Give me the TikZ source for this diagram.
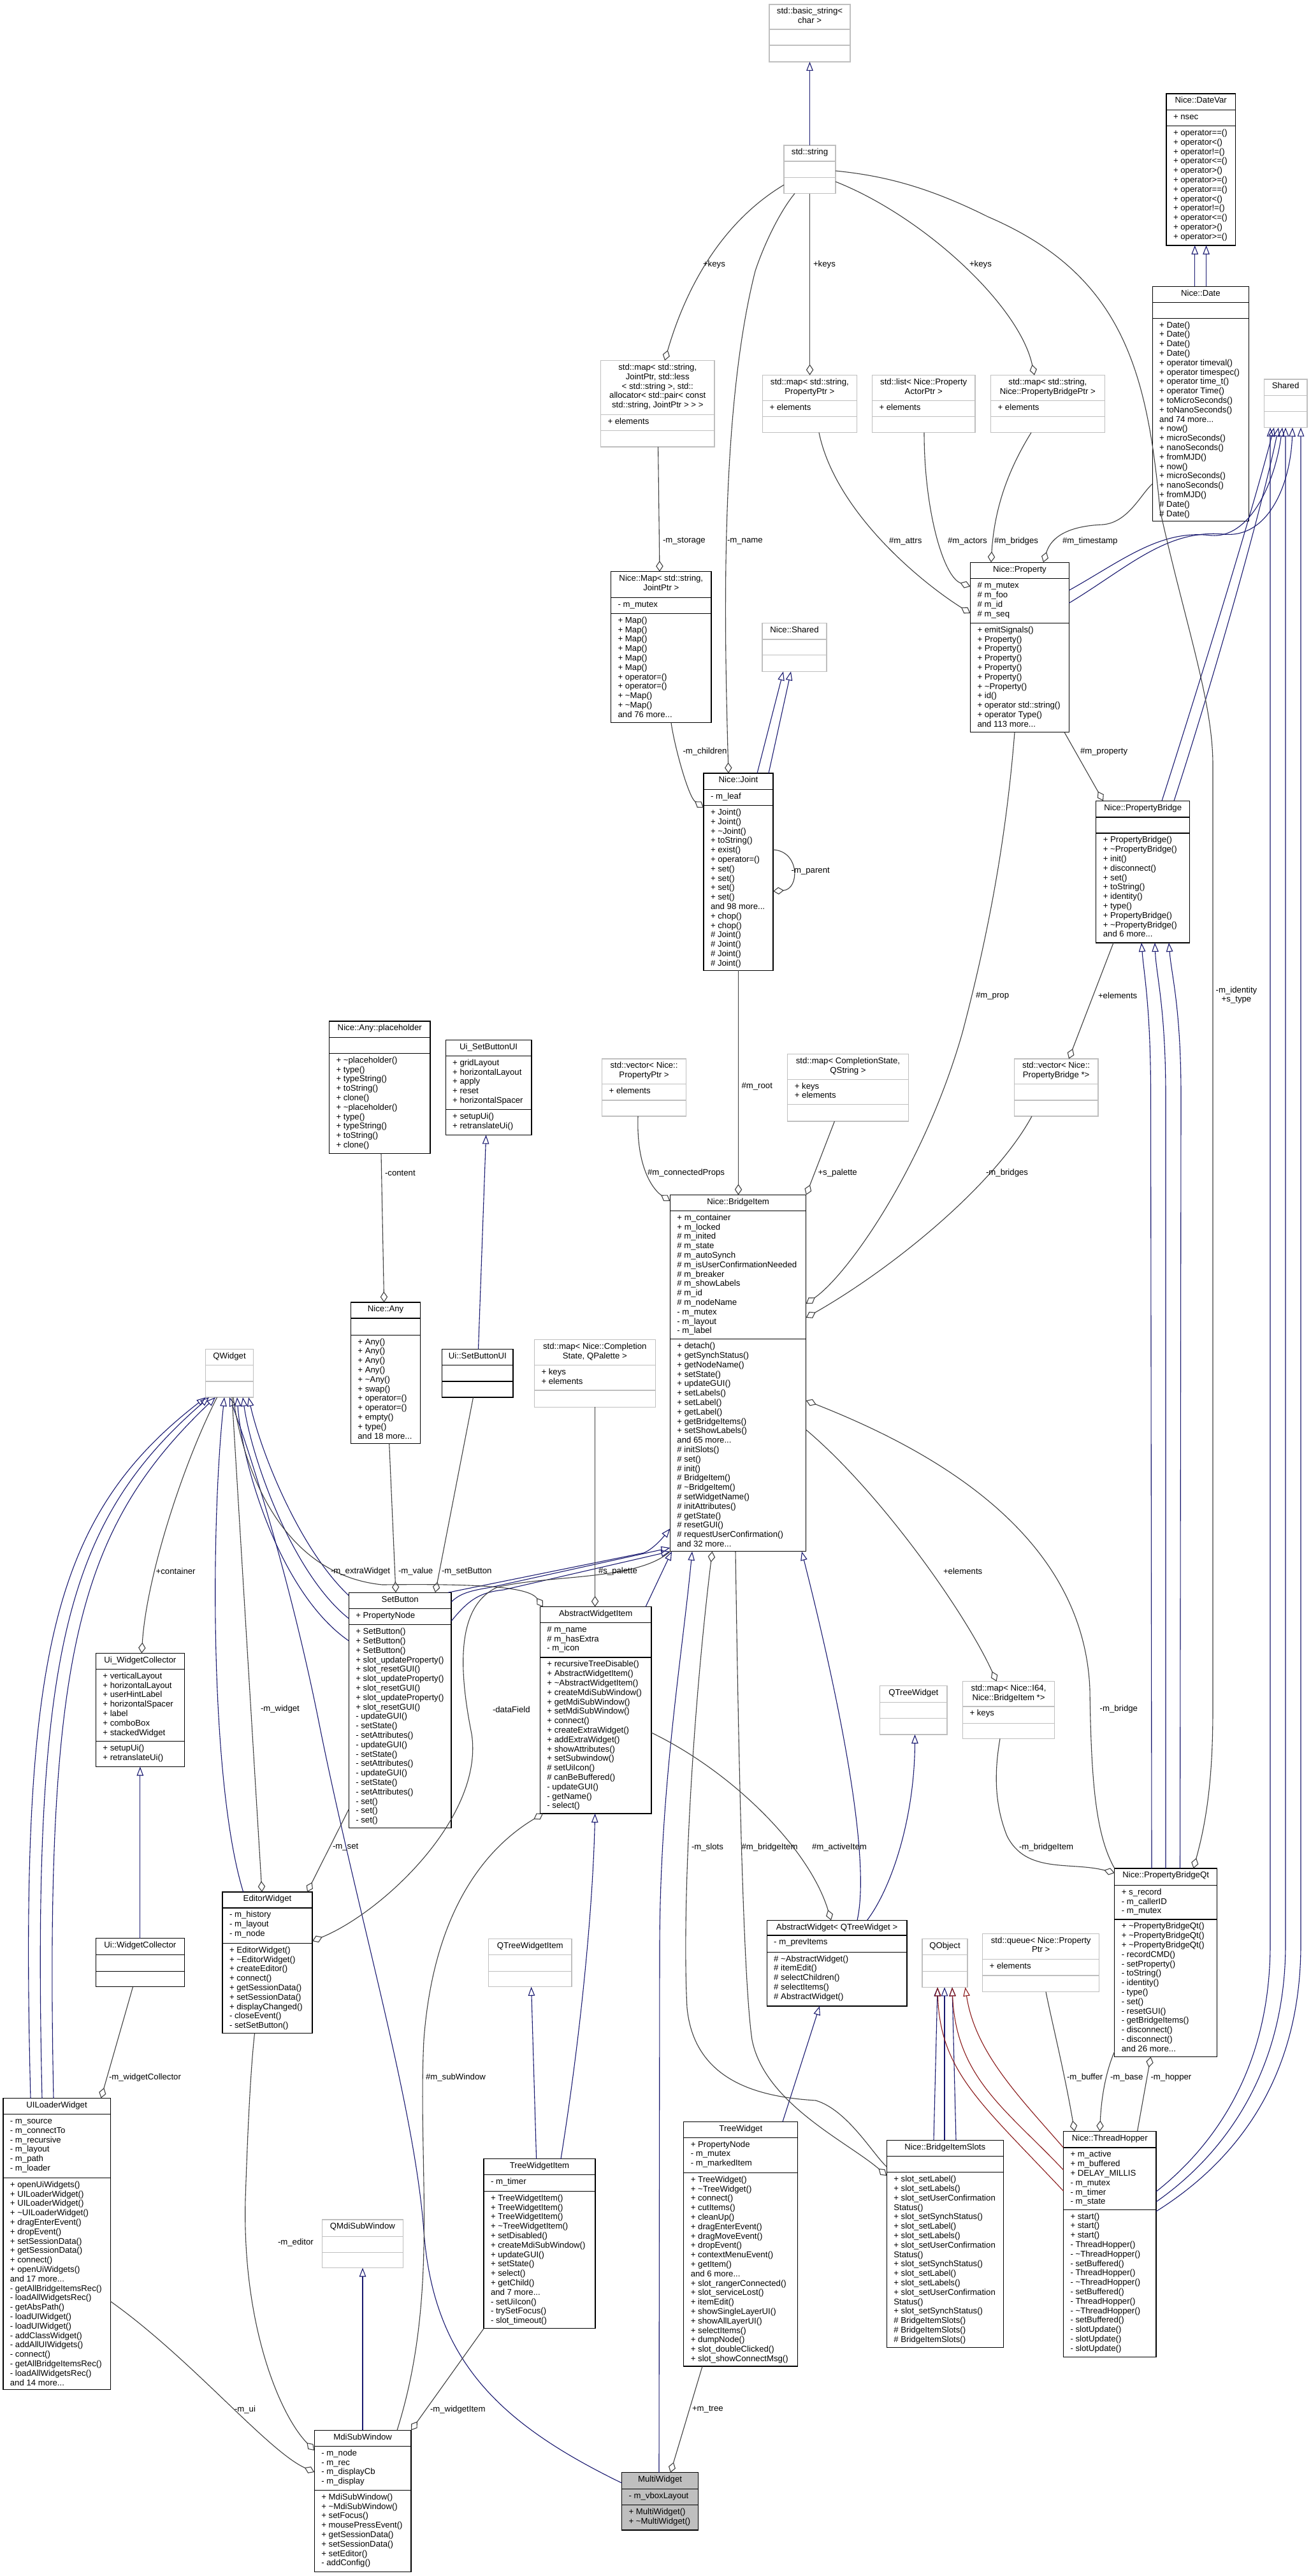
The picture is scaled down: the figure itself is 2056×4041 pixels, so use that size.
\documentclass[tikz,border=0pt]{standalone}
\usepackage{fontspec}
\setmainfont{Liberation Sans}
\usetikzlibrary{arrows.meta}
\definecolor{navy}{HTML}{191970}
\definecolor{dred}{HTML}{8B1A1A}
\definecolor{egrey}{HTML}{404040}
\definecolor{bgrey}{HTML}{BFBFBF}
\tikzset{
  blk/.style={draw=black, line width=1.3pt, fill=white, inner sep=0pt, outer sep=0pt},
  gry/.style={draw=bgrey, line width=1.3pt, fill=white, inner sep=0pt, outer sep=0pt},
  mw/.style={draw=black, line width=1.3pt, fill=bgrey, inner sep=0pt, outer sep=0pt},
  blk sep/.style={draw=black, line width=1.3pt},
  gry sep/.style={draw=bgrey, line width=1.3pt},
  mw sep/.style={draw=black, line width=1.3pt},
  txt/.style={font=\fontsize{13.2}{14.8}\selectfont, inner sep=0pt, outer sep=0pt},
  ttxt/.style={txt, align=center},
  mtxt/.style={txt, align=left},
  lbl/.style={txt},
  inh/.style={draw=navy, line width=1.1pt, -{Triangle[open, length=14pt, width=10.5pt]}},
  inhp/.style={draw=dred, line width=1.1pt, -{Triangle[open, length=14pt, width=10.5pt]}},
  agg/.style={draw=egrey, line width=1.1pt, {Diamond[open, length=17pt, width=11.5pt]}-},
}
% name, style, x1, y1, x2, y2, divider1, divider2
\newcommand\cls[8]{%
  \node[#2, anchor=north west, minimum width={(#5-#3)*1pt}, minimum height={(#6-#4)*1pt}] (#1) at (#3,#4) {};
  \draw[#2 sep] (#1.west |- 0,#7) -- (#1.east |- 0,#7);
  \draw[#2 sep] (#1.west |- 0,#8) -- (#1.east |- 0,#8);
}
\newcommand\ttl[2]{\node[ttxt, anchor=north] (#1t) at ([yshift=-4.5pt]#1.north) {\strut #2};}
\newcommand\mem[4]{\node[mtxt, anchor=north west, xshift=11pt, yshift=-4.5pt] (#1#2) at (#1.west |- 0,#3) {\strut #4};}
\begin{document}
\begin{tikzpicture}[x=1pt, y=-1pt]
\fill[white] (0,0) rectangle (2056,4041);
\useasboundingbox (0,0) rectangle (2056,4041);

% ---------------- boxes ----------------
\cls{basicstr}{gry}{1207}{7}{1334}{97}{46}{71}
\ttl{basicstr}{std::basic\_string<\\char >}
\cls{string}{gry}{1230}{228}{1311}{303.5}{253}{278.5}
\ttl{string}{std::string}
\cls{mapjoint}{gry}{942.5}{565.6}{1121}{701}{650.3}{675.3}
\ttl{mapjoint}{std::map< std::string,\\JointPtr, std::less\\< std::string >, std::\\allocator< std::pair< const\\std::string, JointPtr > > >}
\mem{mapjoint}{a}{650.3}{+ elements}
\cls{mapprop}{gry}{1196.5}{588.6}{1344.2}{678.6}{628.7}{653.6}
\ttl{mapprop}{std::map< std::string,\\PropertyPtr >}
\mem{mapprop}{a}{628.7}{+ elements}
\cls{listactor}{gry}{1368.5}{588.6}{1530}{678.6}{628.7}{653.6}
\ttl{listactor}{std::list< Nice::Property\\ActorPtr >}
\mem{listactor}{a}{628.7}{+ elements}
\cls{mapbridge}{gry}{1554.6}{588.6}{1733.2}{678.6}{628.7}{653.6}
\ttl{mapbridge}{std::map< std::string,\\Nice::PropertyBridgePtr >}
\mem{mapbridge}{a}{628.7}{+ elements}
\cls{datevar}{blk}{1830}{147}{1938.5}{385}{172.8}{197.7}
\ttl{datevar}{Nice::DateVar}
\mem{datevar}{a}{172.8}{+ nsec}
\mem{datevar}{o}{197.7}{+ operator==()\\+ operator<()\\+ operator!=()\\+ operator<=()\\+ operator>()\\+ operator>=()\\+ operator==()\\+ operator<()\\+ operator!=()\\+ operator<=()\\+ operator>()\\+ operator>=()}
\cls{date}{blk}{1808.2}{449.3}{1959.5}{817.8}{474.3}{499.2}
\ttl{date}{Nice::Date}
\mem{date}{o}{499.2}{+ Date()\\+ Date()\\+ Date()\\+ Date()\\+ operator timeval()\\+ operator timespec()\\+ operator time\_t()\\+ operator Time()\\+ toMicroSeconds()\\+ toNanoSeconds()\\and 74 more...\\+ now()\\+ microSeconds()\\+ nanoSeconds()\\+ fromMJD()\\+ now()\\+ microSeconds()\\+ nanoSeconds()\\+ fromMJD()\\\# Date()\\\# Date()}
\cls{shared}{gry}{1983.2}{595}{2051}{670.7}{620.8}{645.7}
\ttl{shared}{Shared}
\cls{map}{blk}{958.6}{896.7}{1116}{1133.5}{937.4}{962.4}
\ttl{map}{Nice::Map< std::string,\\JointPtr >}
\mem{map}{a}{937.4}{- m\_mutex}
\mem{map}{o}{962.4}{+ Map()\\+ Map()\\+ Map()\\+ Map()\\+ Map()\\+ Map()\\+ operator=()\\+ operator=()\\+ \textasciitilde Map()\\+ \textasciitilde Map()\\and 76 more...}
\cls{nshared}{gry}{1196}{977.5}{1297}{1053.4}{1003}{1027.7}
\ttl{nshared}{Nice::Shared}
\cls{joint}{blk}{1104}{1213}{1213}{1522.4}{1238.6}{1263.6}
\ttl{joint}{Nice::Joint}
\mem{joint}{a}{1238.6}{- m\_leaf}
\mem{joint}{o}{1263.6}{+ Joint()\\+ Joint()\\+ \textasciitilde Joint()\\+ toString()\\+ exist()\\+ operator=()\\+ set()\\+ set()\\+ set()\\+ set()\\and 98 more...\\+ chop()\\+ chop()\\\# Joint()\\\# Joint()\\\# Joint()\\\# Joint()}
\cls{property}{blk}{1522.5}{882.2}{1677.4}{1148.6}{907.8}{977.5}
\ttl{property}{Nice::Property}
\mem{property}{a}{907.8}{\# m\_mutex\\\# m\_foo\\\# m\_id\\\# m\_seq}
\mem{property}{o}{977.5}{+ emitSignals()\\+ Property()\\+ Property()\\+ Property()\\+ Property()\\+ Property()\\+ \textasciitilde Property()\\+ id()\\+ operator std::string()\\+ operator Type()\\and 113 more...}
\cls{pbridge}{blk}{1719.8}{1256.3}{1866.7}{1479}{1282}{1307}
\ttl{pbridge}{Nice::PropertyBridge}
\mem{pbridge}{o}{1307}{+ PropertyBridge()\\+ \textasciitilde PropertyBridge()\\+ init()\\+ disconnect()\\+ set()\\+ toString()\\+ identity()\\+ type()\\+ PropertyBridge()\\+ \textasciitilde PropertyBridge()\\and 6 more...}
\cls{vecbridge}{gry}{1591.3}{1661}{1723}{1751}{1700.4}{1726}
\ttl{vecbridge}{std::vector< Nice::\\PropertyBridge *>}
\cls{placeholder}{blk}{516.5}{1601.9}{675}{1809.4}{1627.5}{1652.5}
\ttl{placeholder}{Nice::Any::placeholder}
\mem{placeholder}{o}{1652.5}{+ \textasciitilde placeholder()\\+ type()\\+ typeString()\\+ toString()\\+ clone()\\+ \textasciitilde placeholder()\\+ type()\\+ typeString()\\+ toString()\\+ clone()}
\cls{uisbui}{blk}{699.2}{1631.4}{834}{1780.5}{1656.4}{1740.5}
\ttl{uisbui}{Ui\_SetButtonUI}
\mem{uisbui}{a}{1656.4}{+ gridLayout\\+ horizontalLayout\\+ apply\\+ reset\\+ horizontalSpacer}
\mem{uisbui}{o}{1740.5}{+ setupUi()\\+ retranslateUi()}
\cls{vecprop}{gry}{944.7}{1661}{1076.4}{1751}{1700.4}{1726}
\ttl{vecprop}{std::vector< Nice::\\PropertyPtr >}
\mem{vecprop}{a}{1700.4}{+ elements}
\cls{mapcompl}{gry}{1235.8}{1653.8}{1425.2}{1759}{1693.2}{1732.6}
\ttl{mapcompl}{std::map< CompletionState,\\QString >}
\mem{mapcompl}{a}{1693.2}{+ keys\\+ elements}
\cls{bridge}{blk}{1051.4}{1874.5}{1264.8}{2433.8}{1899.5}{2100.8}
\ttl{bridge}{Nice::BridgeItem}
\mem{bridge}{a}{1899.5}{+ m\_container\\+ m\_locked\\\# m\_inited\\\# m\_state\\\# m\_autoSynch\\\# m\_isUserConfirmationNeeded\\\# m\_breaker\\\# m\_showLabels\\\# m\_id\\\# m\_nodeName\\- m\_mutex\\- m\_layout\\- m\_label}
\mem{bridge}{o}{2100.8}{+ detach()\\+ getSynchStatus()\\+ getNodeName()\\+ setState()\\+ updateGUI()\\+ setLabels()\\+ setLabel()\\+ getLabel()\\+ getBridgeItems()\\+ setShowLabels()\\and 65 more...\\\# initSlots()\\\# set()\\\# init()\\\# BridgeItem()\\\# \textasciitilde BridgeItem()\\\# setWidgetName()\\\# initAttributes()\\\# getState()\\\# resetGUI()\\\# requestUserConfirmation()\\and 32 more...}
\cls{any}{blk}{550.4}{2043}{659.8}{2264.4}{2068}{2094.2}
\ttl{any}{Nice::Any}
\mem{any}{o}{2094.2}{+ Any()\\+ Any()\\+ Any()\\+ Any()\\+ \textasciitilde Any()\\+ swap()\\+ operator=()\\+ operator=()\\+ empty()\\+ type()\\and 18 more...}
\cls{qwidget}{gry}{322.7}{2116.6}{397.3}{2192}{2141.5}{2167}
\ttl{qwidget}{QWidget}
\cls{uisb}{blk}{693.8}{2116.6}{805}{2192}{2141.5}{2167}
\ttl{uisb}{Ui::SetButtonUI}
\cls{mappal}{gry}{838.5}{2101.5}{1028.2}{2207.2}{2141.5}{2181}
\ttl{mappal}{std::map< Nice::Completion\\State, QPalette >}
\mem{mappal}{a}{2141.5}{+ keys\\+ elements}
\cls{setbutton}{blk}{547.3}{2498.2}{708.1}{2867.4}{2523.2}{2548.8}
\ttl{setbutton}{SetButton}
\mem{setbutton}{a}{2523.2}{+ PropertyNode}
\mem{setbutton}{o}{2548.8}{+ SetButton()\\+ SetButton()\\+ SetButton()\\+ slot\_updateProperty()\\+ slot\_resetGUI()\\+ slot\_updateProperty()\\+ slot\_resetGUI()\\+ slot\_updateProperty()\\+ slot\_resetGUI()\\- updateGUI()\\- setState()\\- setAttributes()\\- updateGUI()\\- setState()\\- setAttributes()\\- updateGUI()\\- setState()\\- setAttributes()\\- set()\\- set()\\- set()}
\cls{awi}{blk}{847.4}{2520.6}{1022}{2845}{2545.5}{2600}
\ttl{awi}{AbstractWidgetItem}
\mem{awi}{a}{2545.5}{\# m\_name\\\# m\_hasExtra\\- m\_icon}
\mem{awi}{o}{2600}{+ recursiveTreeDisable()\\+ AbstractWidgetItem()\\+ \textasciitilde AbstractWidgetItem()\\+ createMdiSubWindow()\\+ getMdiSubWindow()\\+ setMdiSubWindow()\\+ connect()\\+ createExtraWidget()\\+ addExtraWidget()\\+ showAttributes()\\+ setSubwindow()\\\# setUiIcon()\\\# canBeBuffered()\\- updateGUI()\\- getName()\\- select()}
\cls{uiwc}{blk}{150.4}{2593.5}{289.3}{2771.5}{2618.4}{2731.4}
\ttl{uiwc}{Ui\_WidgetCollector}
\mem{uiwc}{a}{2618.4}{+ verticalLayout\\+ horizontalLayout\\+ userHintLabel\\+ horizontalSpacer\\+ label\\+ comboBox\\+ stackedWidget}
\mem{uiwc}{o}{2731.4}{+ setupUi()\\+ retranslateUi()}
\cls{editor}{blk}{349}{2967.9}{490}{3189.7}{2992.9}{3048.4}
\ttl{editor}{EditorWidget}
\mem{editor}{a}{2992.9}{- m\_history\\- m\_layout\\- m\_node}
\mem{editor}{o}{3048.4}{+ EditorWidget()\\+ \textasciitilde EditorWidget()\\+ createEditor()\\+ connect()\\+ getSessionData()\\+ setSessionData()\\+ displayChanged()\\- closeEvent()\\- setSetButton()}
\cls{uiwcns}{blk}{150.4}{3040.6}{289.3}{3116.8}{3066.8}{3092.5}
\ttl{uiwcns}{Ui::WidgetCollector}
\cls{uiloader}{blk}{4.9}{3291.5}{173.2}{3748.7}{3316.5}{3416.3}
\ttl{uiloader}{UILoaderWidget}
\mem{uiloader}{a}{3316.5}{- m\_source\\- m\_connectTo\\- m\_recursive\\- m\_layout\\- m\_path\\- m\_loader}
\mem{uiloader}{o}{3416.3}{+ openUiWidgets()\\+ UILoaderWidget()\\+ UILoaderWidget()\\+ \textasciitilde UILoaderWidget()\\+ dragEnterEvent()\\+ dropEvent()\\+ setSessionData()\\+ getSessionData()\\+ connect()\\+ openUiWidgets()\\and 17 more...\\- getAllBridgeItemsRec()\\- loadAllWidgetsRec()\\- getAbsPath()\\- loadUIWidget()\\- loadUIWidget()\\- addClassWidget()\\- addAllUIWidgets()\\- connect()\\- getAllBridgeItemsRec()\\- loadAllWidgetsRec()\\and 14 more...}
\cls{qmdi}{gry}{505.3}{3482}{632.5}{3557.5}{3508.3}{3533.2}
\ttl{qmdi}{QMdiSubWindow}
\cls{mdi}{blk}{493.3}{3812.4}{645}{4034.5}{3837.4}{3906.3}
\ttl{mdi}{MdiSubWindow}
\mem{mdi}{a}{3837.4}{- m\_node\\- m\_rec\\- m\_displayCb\\- m\_display}
\mem{mdi}{o}{3906.3}{+ MdiSubWindow()\\+ \textasciitilde MdiSubWindow()\\+ setFocus()\\+ mousePressEvent()\\+ getSessionData()\\+ setSessionData()\\+ setEditor()\\- addConfig()}
\cls{qtwi}{gry}{766.6}{3041.2}{897}{3116.8}{3066.8}{3092.5}
\ttl{qtwi}{QTreeWidgetItem}
\cls{twi}{blk}{759}{3386.7}{934}{3652.8}{3411.7}{3437.3}
\ttl{twi}{TreeWidgetItem}
\mem{twi}{a}{3411.7}{- m\_timer}
\mem{twi}{o}{3437.3}{+ TreeWidgetItem()\\+ TreeWidgetItem()\\+ TreeWidgetItem()\\+ \textasciitilde TreeWidgetItem()\\+ setDisabled()\\+ createMdiSubWindow()\\+ updateGUI()\\+ setState()\\+ select()\\+ getChild()\\and 7 more...\\- setUiIcon()\\- trySetFocus()\\- slot\_timeout()}
\cls{multi}{mw}{975.5}{3878.8}{1095.6}{3968.8}{3904.4}{3929.4}
\ttl{multi}{MultiWidget}
\mem{multi}{a}{3904.4}{- m\_vboxLayout}
\mem{multi}{o}{3929.4}{+ MultiWidget()\\+ \textasciitilde MultiWidget()}
\cls{treew}{blk}{1072.8}{3328.3}{1251.8}{3712}{3353.2}{3408.4}
\ttl{treew}{TreeWidget}
\mem{treew}{a}{3353.2}{+ PropertyNode\\- m\_mutex\\- m\_markedItem}
\mem{treew}{o}{3408.4}{+ TreeWidget()\\+ \textasciitilde TreeWidget()\\+ connect()\\+ cutItems()\\+ cleanUp()\\+ dragEnterEvent()\\+ dragMoveEvent()\\+ dropEvent()\\+ contextMenuEvent()\\+ getItem()\\and 6 more...\\+ slot\_rangerConnected()\\+ slot\_serviceLost()\\+ itemEdit()\\+ showSingleLayerUI()\\+ showAllLayerUI()\\+ selectItems()\\+ dumpNode()\\+ slot\_doubleClicked()\\+ slot\_showConnectMsg()}
\cls{aw}{blk}{1203.2}{3012.3}{1423}{3147}{3036}{3062.2}
\ttl{aw}{AbstractWidget< QTreeWidget >}
\mem{aw}{a}{3036}{- m\_prevItems}
\mem{aw}{o}{3062.2}{\# \textasciitilde AbstractWidget()\\\# itemEdit()\\\# selectChildren()\\\# selectItems()\\\# AbstractWidget()}
\cls{qtw}{gry}{1380.6}{2644.7}{1486}{2721}{2670.3}{2695.3}
\ttl{qtw}{QTreeWidget}
\cls{mapi64}{gry}{1510.5}{2637.5}{1654.6}{2727.5}{2677}{2703.2}
\ttl{mapi64}{std::map< Nice::I64,\\Nice::BridgeItem *>}
\mem{mapi64}{a}{2677}{+ keys}
\cls{pbqt}{blk}{1748.8}{2931}{1909.5}{3226.5}{2957.4}{3011}
\ttl{pbqt}{Nice::PropertyBridgeQt}
\mem{pbqt}{a}{2957.4}{+ s\_record\\- m\_callerID\\- m\_mutex}
\mem{pbqt}{o}{3011}{+ \textasciitilde PropertyBridgeQt()\\+ \textasciitilde PropertyBridgeQt()\\+ \textasciitilde PropertyBridgeQt()\\- recordCMD()\\- setProperty()\\- toString()\\- identity()\\- type()\\- set()\\- resetGUI()\\- getBridgeItems()\\- disconnect()\\- disconnect()\\and 26 more...}
\cls{bis}{blk}{1391.3}{3357.2}{1574.3}{3682.4}{3382.2}{3407.8}
\ttl{bis}{Nice::BridgeItemSlots}
\mem{bis}{o}{3407.8}{+ slot\_setLabel()\\+ slot\_setLabels()\\+ slot\_setUserConfirmation\\Status()\\+ slot\_setSynchStatus()\\+ slot\_setLabel()\\+ slot\_setLabels()\\+ slot\_setUserConfirmation\\Status()\\+ slot\_setSynchStatus()\\+ slot\_setLabel()\\+ slot\_setLabels()\\+ slot\_setUserConfirmation\\Status()\\+ slot\_setSynchStatus()\\\# BridgeItemSlots()\\\# BridgeItemSlots()\\\# BridgeItemSlots()}
\cls{qobject}{gry}{1447}{3041.2}{1518}{3117.4}{3066.8}{3092.5}
\ttl{qobject}{QObject}
\cls{queue}{gry}{1541.7}{3033.3}{1724.7}{3124.6}{3073.4}{3099}
\ttl{queue}{std::queue< Nice::Property\\Ptr >}
\mem{queue}{a}{3073.4}{+ elements}
\cls{th}{blk}{1668.5}{3343.4}{1814}{3697.5}{3369}{3466.2}
\ttl{th}{Nice::ThreadHopper}
\mem{th}{a}{3369}{+ m\_active\\+ m\_buffered\\+ DELAY\_MILLIS\\- m\_mutex\\- m\_timer\\- m\_state}
\mem{th}{o}{3466.2}{+ start()\\+ start()\\+ start()\\- ThreadHopper()\\- \textasciitilde ThreadHopper()\\- setBuffered()\\- ThreadHopper()\\- \textasciitilde ThreadHopper()\\- setBuffered()\\- ThreadHopper()\\- \textasciitilde ThreadHopper()\\- setBuffered()\\- slotUpdate()\\- slotUpdate()\\- slotUpdate()}

% ---------------- inheritance ----------------
\draw[inh] (string.north) -- (basicstr.south);
\draw[inh] (date.north -| 1874.7,0) -- (datevar.south -| 1874.7,0);
\draw[inh] (date.north -| 1892.6,0) -- (datevar.south -| 1892.6,0);
\draw[inh] (joint.north -| 1188,0) -- (nshared.south -| 1229,0);
\draw[inh] (joint.north -| 1206,0) -- (nshared.south -| 1241,0);
\draw[inh] (property.east |- 0,926) .. controls (1760,880) and (1820,830) .. (1900,840) .. controls (1960,845) and (2000,760) .. (shared.south -| 2012,0);
\draw[inh] (property.east |- 0,946) .. controls (1770,890) and (1830,830) .. (1920,838) .. controls (1990,845) and (2025,760) .. (shared.south -| 2028,0);
\draw[inh] (pbridge.north -| 1823,0) .. controls (1870,1110) and (1960,820) .. (shared.south -| 1999,0);
\draw[inh] (pbridge.north -| 1842,0) .. controls (1890,1110) and (1975,820) .. (shared.south -| 2006,0);
\draw[inh] (th.east |- 0,3438) .. controls (1900,3370) and (1993,3250) .. (1993,3050) -- (shared.south -| 1993,0);
\draw[inh] (th.east |- 0,3454) .. controls (1920,3380) and (2017,3250) .. (2017,3050) -- (shared.south -| 2017,0);
\draw[inh] (th.east |- 0,3469) .. controls (1940,3390) and (2041,3260) .. (2041,3050) -- (shared.south -| 2041,0);
\draw[inh] (pbqt.north -| 1807,0) -- (1805.5,1720) .. controls (1805.5,1580) and (1795,1530) .. (pbridge.south -| 1791,0);
\draw[inh] (pbqt.north -| 1829,0) -- (1829,1720) .. controls (1829,1580) and (1814,1530) .. (pbridge.south -| 1812,0);
\draw[inh] (pbqt.north -| 1851.5,0) -- (1853,1720) .. controls (1853,1580) and (1838,1530) .. (pbridge.south -| 1834,0);
\draw[inh] (uisb.north -| 750.5,0) -- (uisbui.south -| 762.6,0);
\draw[inh] (uiwcns.north) -- (uiwc.south);
\draw[inh] (uiloader.north -| 48,0) .. controls (30,2600) and (80,2380) .. (qwidget.south west);
\draw[inh] (uiloader.north -| 66,0) .. controls (50,2600) and (100,2390) .. (qwidget.south -| 328,0);
\draw[inh] (uiloader.north -| 84,0) .. controls (70,2600) and (120,2400) .. (qwidget.south -| 338,0);
\draw[inh] (editor.north -| 381.7,0) .. controls (330,2800) and (330,2400) .. (qwidget.south -| 352,0);
\draw[inh] (setbutton.west |- 0,2503) .. controls (470,2430) and (410,2280) .. (qwidget.south -| 390,0);
\draw[inh] (setbutton.west |- 0,2539) .. controls (460,2470) and (395,2290) .. (qwidget.south -| 381,0);
\draw[inh] (setbutton.west |- 0,2574) .. controls (440,2500) and (380,2300) .. (qwidget.south -| 372,0);
\draw[inh] (setbutton.north -| 703,0) -- (1010,2436) .. controls (1025,2430) and (1040,2412) .. (bridge.west |- 0,2398);
\draw[inh] (setbutton.east |- 0,2513) .. controls (722,2499) and (740,2495) .. (770,2490) -- (bridge.west |- 0,2428);
\draw[inh] (setbutton.east |- 0,2543) .. controls (735,2510) and (752,2498) .. (790,2494) -- (bridge.south west);
\draw[inh] (multi.west |- 0,3895) .. controls (780,3800) and (680,3700) .. (665,3500) .. controls (650,3300) and (560,3000) .. (500,2700) .. controls (460,2500) and (400,2300) .. (qwidget.south -| 360,0);
\draw[inh] (multi.north -| 1034,0) -- (1035,3050) .. controls (1036,2800) and (1070,2600) .. (bridge.south -| 1086,0);
\draw[inh] (awi.north -| 1013,0) -- (bridge.south -| 1054,0);
\draw[inh] (twi.north -| 880,0) .. controls (910,3200) and (930,3000) .. (awi.south -| 933.6,0);
\draw[inh] (twi.north -| 841.6,0) -- (qtwi.south -| 833.6,0);
\draw[inh] (mdi.north -| 569,0) -- (qmdi.south -| 569,0);
\draw[inh] (treew.north -| 1228,0) -- (aw.south -| 1286,0);
\draw[inh] (aw.north -| 1360.5,0) .. controls (1400,2960) and (1435,2850) .. (qtw.south -| 1435.5,0);
\draw[inh] (aw.north -| 1345,0) .. controls (1370,2900) and (1300,2600) .. (bridge.south -| 1258,0);
\draw[inh] (bis.north -| 1465,0) -- (qobject.south -| 1471,0);
\draw[inh] (bis.north -| 1482,0) -- (qobject.south -| 1482,0);
\draw[inh] (bis.north -| 1500,0) -- (qobject.south -| 1494,0);
\draw[inhp] (th.west |- 0,3369) .. controls (1600,3290) and (1530,3220) .. (qobject.south -| 1514.5,0);
\draw[inhp] (th.west |- 0,3404) .. controls (1580,3310) and (1500,3260) .. (qobject.south -| 1494,0);
\draw[inhp] (th.west |- 0,3437) .. controls (1540,3300) and (1475,3250) .. (qobject.south -| 1471,0);

% ---------------- aggregation ----------------
\draw[agg] (mapjoint.north -| 1043,0) .. controls (1075,455) and (1130,350) .. (string.west |- 0,290);
\draw[agg] (mapprop.north -| 1270.6,0) -- (string.south -| 1270.6,0);
\draw[agg] (mapbridge.north -| 1623,0) .. controls (1600,480) and (1450,340) .. (string.east |- 0,285);
\draw[agg] (joint.north -| 1143,0) .. controls (1137,1000) and (1128,650) .. (1185,425) .. controls (1200,380) and (1225,330) .. (string.south -| 1247,0);
\draw[agg] (map.north -| 1035,0) -- (mapjoint.south -| 1032.6,0);
\draw[agg] (joint.west |- 0,1267) .. controls (1080,1250) and (1058,1170) .. (map.south -| 1053,0);
\draw[agg] (joint.east |- 0,1398) .. controls (1255,1395) and (1255,1335) .. (joint.east |- 0,1333);
\draw[agg] (bridge.north -| 1158.5,0) -- (joint.south -| 1158.5,0);
\draw[agg] (property.west |- 0,920) .. controls (1480,905) and (1450,800) .. (listactor.south -| 1450,0);
\draw[agg] (property.west |- 0,962) .. controls (1440,910) and (1310,800) .. (mapprop.south -| 1285,0);
\draw[agg] (property.north -| 1555,0) .. controls (1560,800) and (1580,740) .. (mapbridge.south -| 1618,0);
\draw[agg] (property.north -| 1637,0) .. controls (1650,840) and (1680,825) .. (1730,823) .. controls (1770,820) and (1790,775) .. (date.west |- 0,759);
\draw[agg] (pbridge.north -| 1731,0) -- (property.south -| 1670,0);
\draw[agg] (vecbridge.north -| 1677,0) -- (pbridge.south -| 1747,0);
\draw[agg] (any.north -| 602.6,0) -- (placeholder.south -| 598,0);
\draw[agg] (setbutton.north -| 621,0) -- (any.south -| 610.7,0);
\draw[agg] (setbutton.north -| 683,0) -- (uisb.south -| 742.5,0);
\draw[agg] (awi.north -| 933.6,0) -- (mappal.south -| 933.6,0);
\draw[agg] (bridge.north east) -- (mapcompl.south -| 1309.4,0);
\draw[agg] (bridge.west |- 0,1884) .. controls (1030,1870) and (998,1840) .. (vecprop.south -| 1001,0);
\draw[agg] (bridge.east |- 0,2045) .. controls (1330,2000) and (1450,1830) .. (1510,1620) .. controls (1555,1450) and (1580,1300) .. (property.south -| 1592,0);
\draw[agg] (bridge.east |- 0,2067) .. controls (1400,1990) and (1560,1860) .. (vecbridge.south -| 1619,0);
\draw[agg] (awi.north -| 852,0) .. controls (830,2490) and (760,2484) .. (600,2486) .. controls (440,2470) and (380,2300) .. (qwidget.south -| 366,0);
\draw[agg] (uiwc.north -| 222.3,0) .. controls (230,2470) and (290,2290) .. (qwidget.south -| 340.6,0);
\draw[agg] (uiloader.north -| 158.5,0) -- (uiwcns.south -| 208.5,0);
\draw[agg] (editor.north -| 411,0) -- (qwidget.south -| 364,0);
\draw[agg] (editor.north -| 482,0) -- (setbutton.west |- 0,2838);
\draw[agg] (editor.east |- 0,3045) .. controls (600,3000) and (760,2850) .. (740,2720) .. controls (720,2620) and (715,2520) .. (780,2490) .. controls (860,2470) and (1000,2480) .. (bridge.south west);
\draw[agg] (mdi.west |- 0,3844) .. controls (440,3790) and (380,3650) .. (385,3450) .. controls (390,3300) and (395,3230) .. (editor.south -| 399.5,0);
\draw[agg] (mdi.west |- 0,3878) .. controls (420,3845) and (300,3700) .. (uiloader.east |- 0,3610);
\draw[agg] (mdi.north east) -- (twi.south west);
\draw[agg] (awi.south -| 852,0) .. controls (760,2900) and (680,3000) .. (665,3200) .. controls (655,3400) and (690,3600) .. (mdi.north -| 623,0);
\draw[agg] (multi.north -| 1052,0) -- (treew.south -| 1102,0);
\draw[agg] (aw.north -| 1304,0) .. controls (1270,2900) and (1150,2780) .. (awi.east |- 0,2718);
\draw[agg] (bridge.south -| 1117.5,0) .. controls (1085,2700) and (1070,3000) .. (1078,3150) .. controls (1090,3270) and (1200,3290) .. (1280,3295) .. controls (1330,3310) and (1370,3380) .. (bis.west |- 0,3399);
\draw[agg] (bis.west |- 0,3413) .. controls (1330,3360) and (1200,3300) .. (1180,3200) .. controls (1165,3100) and (1158,2700) .. (bridge.south -| 1154,0);
\draw[agg] (mapi64.north -| 1563.6,0) .. controls (1515,2530) and (1380,2340) .. (bridge.east |- 0,2243);
\draw[agg] (bridge.east |- 0,2197) .. controls (1450,2270) and (1700,2400) .. (1710,2650) .. controls (1712,2800) and (1720,2880) .. (pbqt.north west);
\draw[agg] (pbqt.west |- 0,2938) .. controls (1680,2920) and (1610,2940) .. (1580,2880) .. controls (1560,2830) and (1560,2780) .. (mapi64.south -| 1569,0);
\draw[agg] (pbqt.north -| 1872.5,0) .. controls (1895,2850) and (1903,2780) .. (1903,2680) -- (1903,1200) .. controls (1903,1100) and (1860,980) .. (1820,800) .. controls (1800,580) and (1760,430) .. (1550,340) .. controls (1450,290) and (1380,275) .. (string.east |- 0,268);
\draw[agg] (th.north -| 1686,0) .. controls (1670,3250) and (1650,3170) .. (queue.south -| 1641,0);
\draw[agg] (th.north -| 1725.6,0) .. controls (1728,3290) and (1735,3250) .. (pbqt.west |- 0,3218);
\draw[agg] (pbqt.south -| 1805.5,0) -- (th.north -| 1784.5,0);

% ---------------- labels ----------------
\node[lbl, anchor=west] (l1) at (1103,415) {+keys};
\node[lbl, anchor=west] (l2) at (1276,415) {+keys};
\node[lbl, anchor=west] (l3) at (1521,415) {+keys};
\node[lbl, anchor=west] (l4) at (1040,849) {-m\_storage};
\node[lbl, anchor=west] (l5) at (1141,849) {-m\_name};
\node[lbl, anchor=west] (l6) at (1395,849) {\#m\_attrs};
\node[lbl, anchor=west] (l7) at (1487,849) {\#m\_actors};
\node[lbl, anchor=west] (l8) at (1560,849) {\#m\_bridges};
\node[lbl, anchor=west] (l9) at (1667,849) {\#m\_timestamp};
\node[lbl, anchor=west] (l10) at (1071.5,1179.5) {-m\_children};
\node[lbl, anchor=west] (l11) at (1241.6,1367) {-m\_parent};
\node[lbl, anchor=west] (l12) at (1695,1179.5) {\#m\_property};
\node[lbl, anchor=west] (l13) at (1531,1562) {\#m\_prop};
\node[lbl, anchor=west] (l14) at (1723,1562) {+elements};
\node[lbl, align=center] (l15) at (1940,1561) {-m\_identity\\+s\_type};
\node[lbl, anchor=west] (l16) at (1163.5,1704) {\#m\_root};
\node[lbl, anchor=west] (l17) at (604,1840) {-content};
\node[lbl, anchor=west] (l18) at (1016,1840) {\#m\_connectedProps};
\node[lbl, anchor=west] (l19) at (1283.5,1840) {+s\_palette};
\node[lbl, anchor=west] (l20) at (1547,1840) {-m\_bridges};
\node[lbl, anchor=west] (l21) at (244.6,2465) {+container};
\node[lbl, anchor=west] (l22) at (519,2465) {-m\_extraWidget};
\node[lbl, anchor=west] (l23) at (625,2465) {-m\_value};
\node[lbl, anchor=west] (l24) at (693,2465) {-m\_setButton};
\node[lbl, anchor=west] (l25) at (939,2465) {\#s\_palette};
\node[lbl, anchor=west] (l26) at (1480,2465) {+elements};
\node[lbl, anchor=west] (l27) at (409,2681.5) {-m\_widget};
\node[lbl, anchor=west] (l28) at (773,2681.5) {-dataField};
\node[lbl, anchor=west] (l29) at (1725.6,2681.5) {-m\_bridge};
\node[lbl, anchor=west] (l30) at (522,2898) {-m\_set};
\node[lbl, anchor=west] (l31) at (1085,2898) {-m\_slots};
\node[lbl, anchor=west] (l32) at (1163.5,2898) {\#m\_bridgeItem};
\node[lbl, anchor=west] (l33) at (1274,2898) {\#m\_activeItem};
\node[lbl, anchor=west] (l34) at (1599,2898) {-m\_bridgeItem};
\node[lbl, anchor=west] (l35) at (171,3259) {-m\_widgetCollector};
\node[lbl, anchor=west] (l36) at (668,3259) {\#m\_subWindow};
\node[lbl, anchor=west] (l37) at (1674,3259) {-m\_buffer};
\node[lbl, anchor=west] (l38) at (1742,3259) {-m\_base};
\node[lbl, anchor=west] (l39) at (1805.5,3259) {-m\_hopper};
\node[lbl, anchor=west] (l40) at (436,3518) {-m\_editor};
\node[lbl, anchor=west] (l41) at (368,3779.6) {-m\_ui};
\node[lbl, anchor=west] (l42) at (675,3779.6) {-m\_widgetItem};
\node[lbl, anchor=west] (l43) at (1086,3779.6) {+m\_tree};
\end{tikzpicture}
\end{document}
